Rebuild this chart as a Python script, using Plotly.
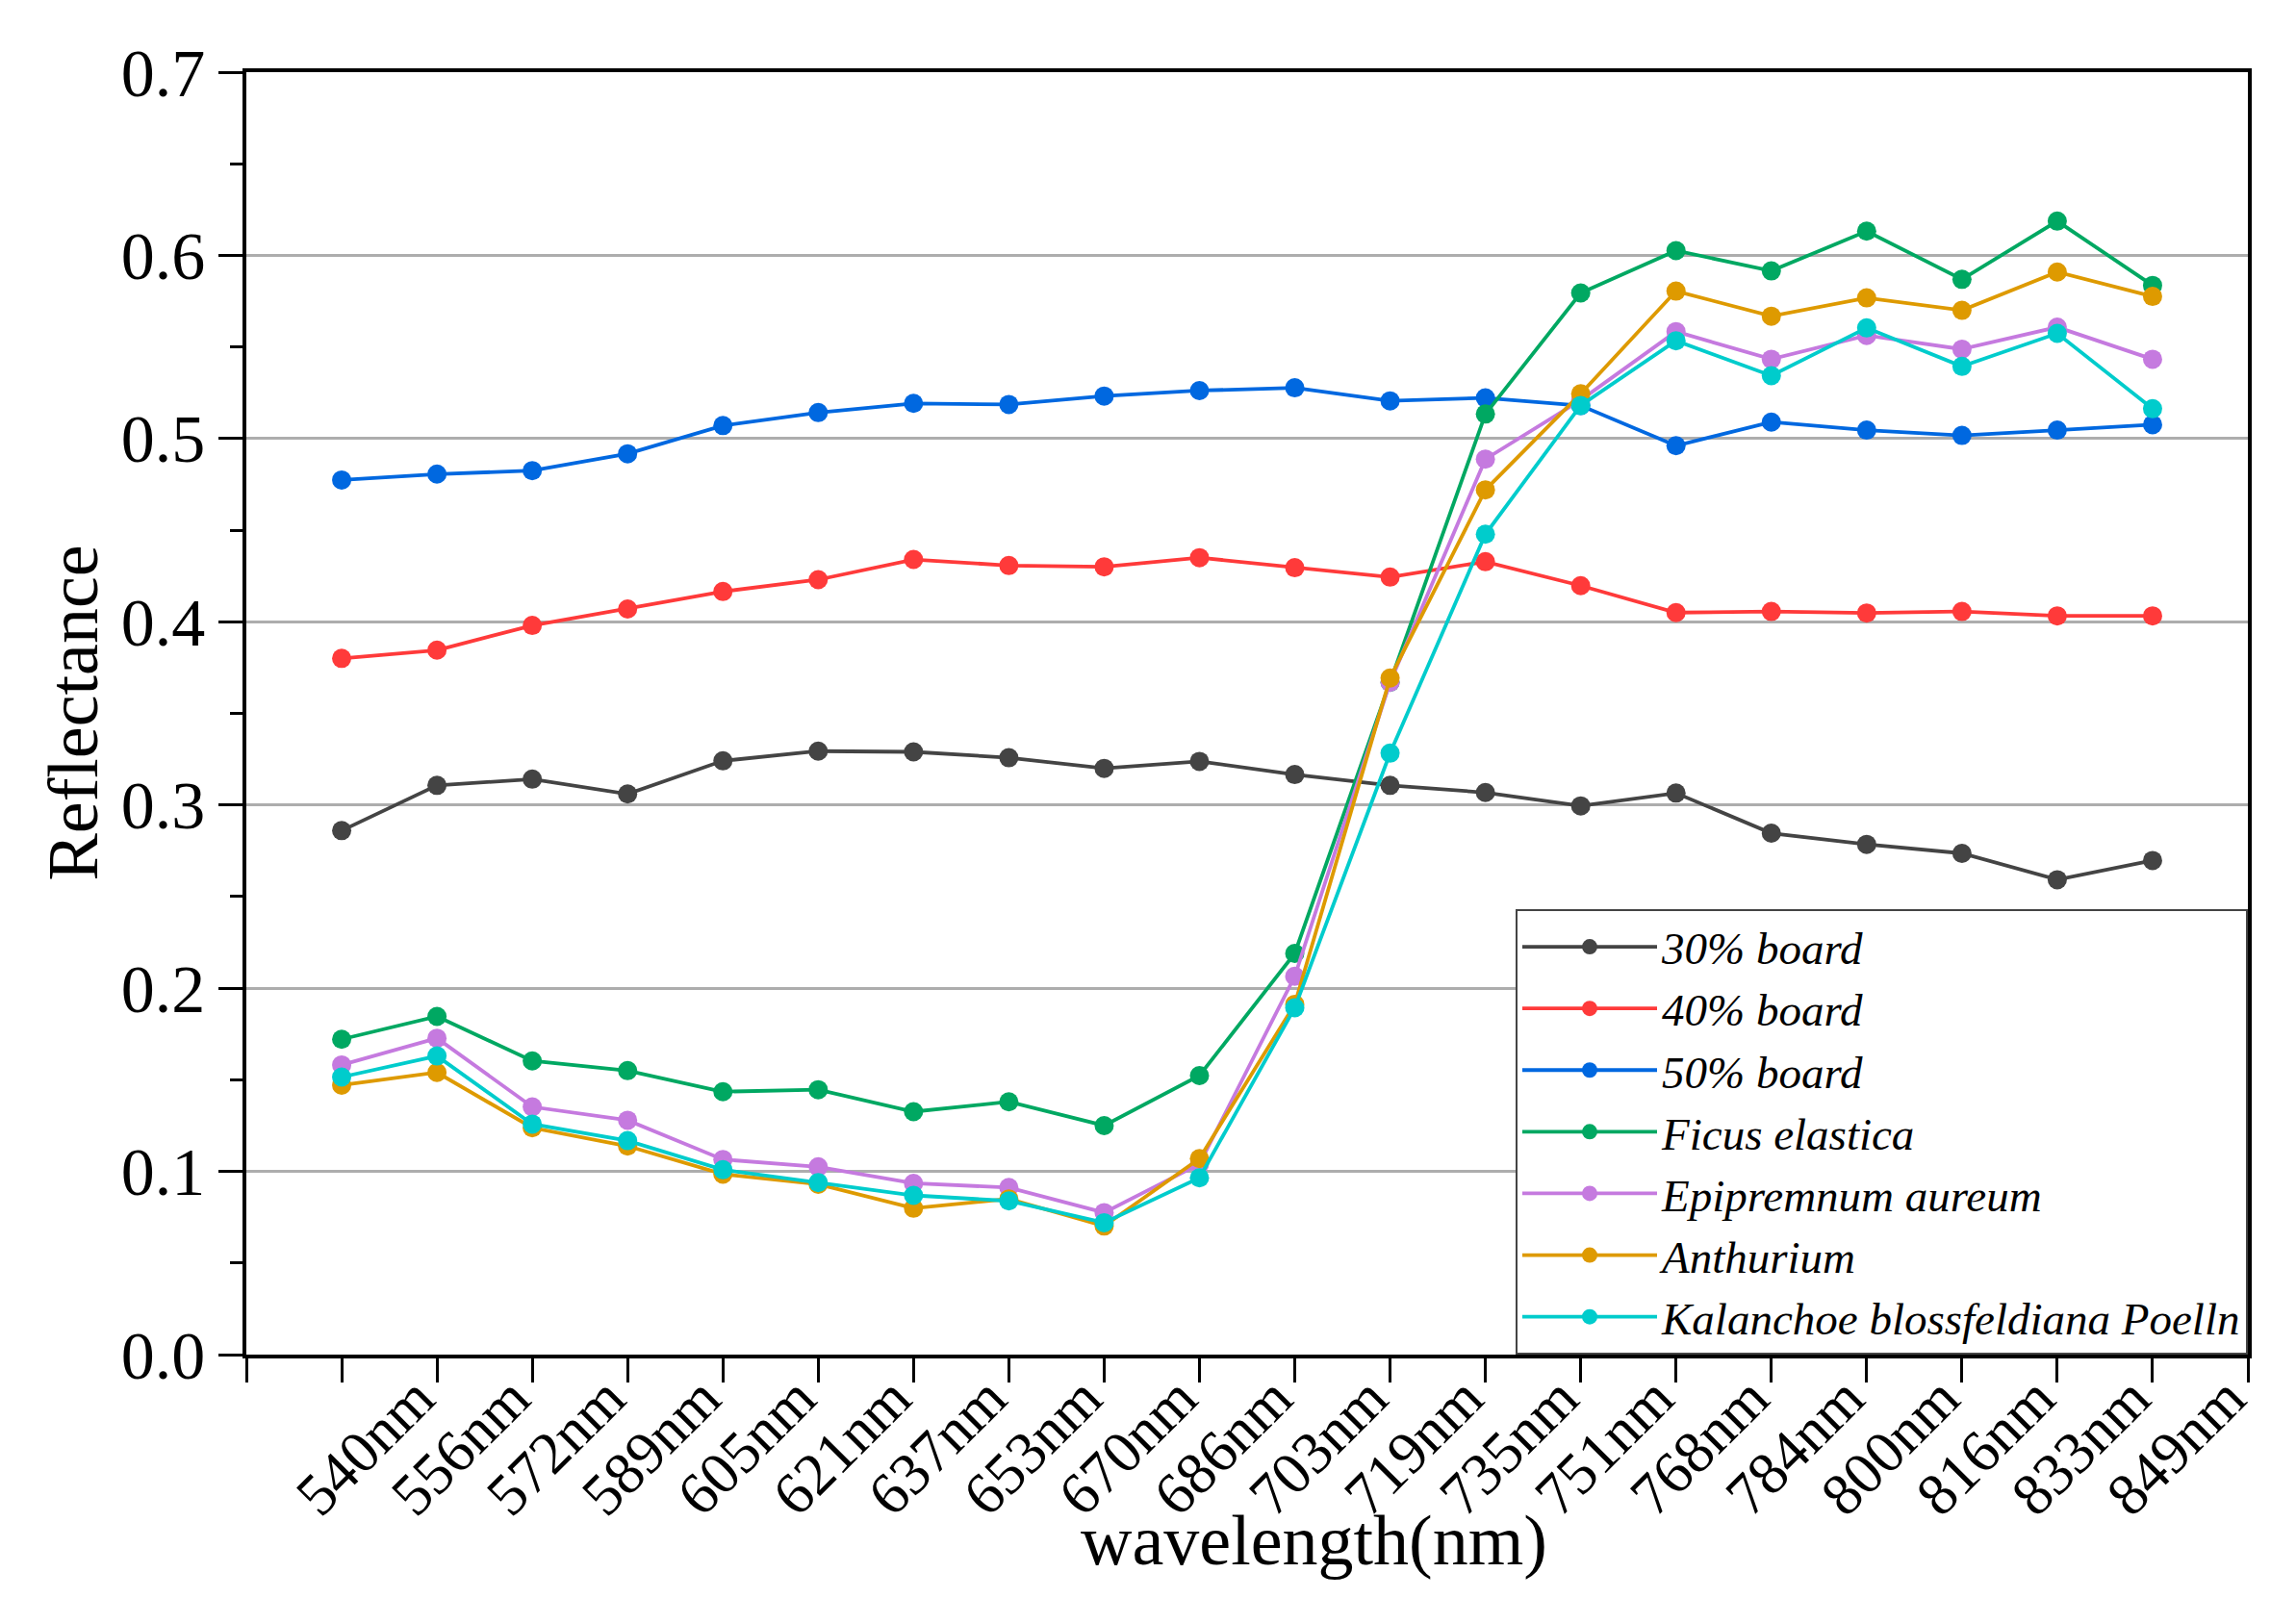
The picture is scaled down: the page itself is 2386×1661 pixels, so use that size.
import plotly.graph_objects as go

categories = ["540nm", "556nm", "572nm", "589nm", "605nm", "621nm", "637nm", "653nm",
              "670nm", "686nm", "703nm", "719nm", "735nm", "751nm", "768nm", "784nm",
              "800nm", "816nm", "833nm", "849nm"]

board30 = [0.286, 0.3107, 0.3141, 0.306, 0.3241, 0.3294, 0.329, 0.3258, 0.320, 0.3238,
           0.3166, 0.3107, 0.3068, 0.2995, 0.3065, 0.2846, 0.2785, 0.2736, 0.2592, 0.2697]
board40 = [0.380, 0.3845, 0.398, 0.407, 0.4165, 0.423, 0.434, 0.4307, 0.430, 0.435,
           0.4295, 0.4244, 0.4328, 0.4197, 0.405, 0.4056, 0.4048, 0.4056, 0.4032, 0.4032]
board50 = [0.4774, 0.4806, 0.4825, 0.4917, 0.5071, 0.5142, 0.5192, 0.5186, 0.5232, 0.5262,
           0.5277, 0.5206, 0.5222, 0.518, 0.4961, 0.509, 0.5046, 0.5017, 0.5046, 0.5076]
ficus = [0.1721, 0.1846, 0.1603, 0.155, 0.1435, 0.1446, 0.1326, 0.138, 0.125, 0.1523,
         0.219, 0.367, 0.5134, 0.5795, 0.6026, 0.5915, 0.6132, 0.5869, 0.6187, 0.5836]
epipremnum = [0.1581, 0.1727, 0.1352, 0.1279, 0.1065, 0.1025, 0.0935, 0.0912, 0.0775, 0.104,
              0.2065, 0.367, 0.4888, 0.521, 0.5584, 0.5433, 0.5563, 0.5488, 0.5608, 0.5433]
anthurium = [0.1471, 0.154, 0.1238, 0.1138, 0.0985, 0.093, 0.0799, 0.085, 0.0702, 0.107,
             0.1912, 0.3693, 0.472, 0.5245, 0.5805, 0.5668, 0.5768, 0.570, 0.5909, 0.5776]
kalanchoe = [0.1515, 0.163, 0.1258, 0.1168, 0.1009, 0.0939, 0.0869, 0.0839, 0.072, 0.0965,
             0.1893, 0.3283, 0.4478, 0.5181, 0.5534, 0.5343, 0.5604, 0.5394, 0.5574, 0.5163]

series_names = ["30% board", "40% board", "50% board", "Ficus elastica",
                "Epipremnum aureum", "Anthurium", "Kalanchoe blossfeldiana Poelln"]
series_values = [board30, board40, board50, ficus, epipremnum, anthurium, kalanchoe]
series_colors = ["#444444", "#FF3A3A", "#0068E0", "#00A862", "#C57ADF", "#DE9A00", "#00CCCC"]

x_idx = list(range(len(categories)))
FONT = "Liberation Serif"

fig = go.Figure()
for name, vals, col in zip(series_names, series_values, series_colors):
    fig.add_trace(go.Scatter(
        x=x_idx, y=vals, name=name, mode="lines+markers",
        line=dict(color=col, width=3.8),
        marker=dict(color=col, size=20, symbol="circle"),
    ))

tickvals = list(range(-1, len(categories) + 1))
ticktext = [""] + categories + [""]

fig.update_layout(
    width=2386, height=1661,
    margin=dict(l=248, r=58, t=67, b=261),
    paper_bgcolor="white", plot_bgcolor="white",
    font=dict(family=FONT, color="black", size=64),
    showlegend=True,
    legend=dict(
        x=1, y=0, xanchor="right", yanchor="bottom",
        bgcolor="white", bordercolor="#444444", borderwidth=2,
        font=dict(family=FONT, size=47, style="italic", color="black"),
        itemwidth=140, tracegroupgap=0,
    ),
    xaxis=dict(
        range=[-1, len(categories)], tickvals=tickvals, ticktext=ticktext,
        tickangle=-45, ticks="outside", ticklen=25, tickwidth=3, tickcolor="black",
        showline=True, linecolor="black", linewidth=3.5, mirror=True,
        showgrid=False, zeroline=False,
        tickfont=dict(family=FONT, size=62, color="black"),
        ticklabelshift=78, ticklabelstandoff=-45,
    ),
    yaxis=dict(
        range=[0, 0.7], tickvals=[0, 0.1, 0.2, 0.3, 0.4, 0.5, 0.6, 0.7],
        tickformat=".1f", ticks="outside", ticklen=25, tickwidth=3, tickcolor="black",
        showline=True, linecolor="black", linewidth=3.5, mirror=True,
        showgrid=True, gridcolor="#ADADAD", gridwidth=2.5, zeroline=False,
        tickfont=dict(family=FONT, size=70, color="black"),
        minor=dict(ticks="outside", ticklen=13, tickwidth=3, tickcolor="black",
                   dtick=0.05, tick0=0, showgrid=False),
    ),
    annotations=[
        dict(text="wavelength(nm)", xref="x", yref="paper", x=10.2, y=-0.145,
             xanchor="center", yanchor="middle", showarrow=False,
             font=dict(family=FONT, size=74, color="black")),
        dict(text="Reflectance", xref="paper", yref="paper", x=-0.087, y=0.5,
             xanchor="center", yanchor="middle", showarrow=False, textangle=-90,
             font=dict(family=FONT, size=74, color="black")),
    ],
)

fig.write_html("out.html")
